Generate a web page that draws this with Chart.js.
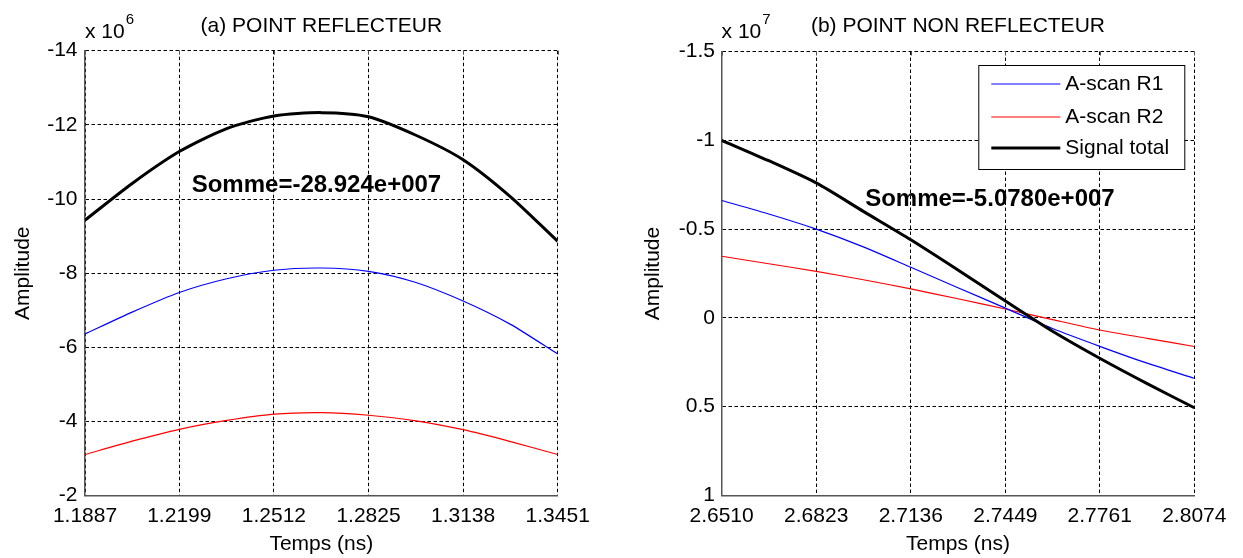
<!DOCTYPE html>
<html>
<head>
<meta charset="utf-8">
<title>A-scan</title>
<script src="https://cdn.jsdelivr.net/npm/chart.js@4.4.1/dist/chart.umd.min.js"></script>
<style>
    body { margin: 0; background: #fff; }
    #cadre { position: relative; width: 1243px; height: 558px; }
    .panneau { position: absolute; top: 0; height: 558px; }
</style>
</head>
<body>
<div id="cadre">
    <div class="panneau" style="left:0;width:620px"><canvas id="grapheA"></canvas></div>
    <div class="panneau" style="left:620px;width:623px"><canvas id="grapheB"></canvas></div>
</div>
<script>
// (a) point reflecteur - amplitudes en x 10^6
const tempsA   = [1.1887, 1.2043, 1.2199, 1.2356, 1.2512, 1.2669, 1.2825, 1.2982, 1.3138, 1.3295, 1.3451];
const ascanR1A = [-6.36, -6.95, -7.48, -7.85, -8.08, -8.14, -8.05, -7.75, -7.25, -6.62, -5.82];
const ascanR2A = [-3.11, -3.47, -3.79, -4.03, -4.20, -4.24, -4.17, -4.02, -3.78, -3.46, -3.11];
const totalA   = [-9.43, -10.42, -11.28, -11.90, -12.24, -12.33, -12.22, -11.72, -11.06, -10.06, -8.86];
const xTicksA  = ['1.1887', '1.2199', '1.2512', '1.2825', '1.3138', '1.3451'];
const yTicksA  = [-14, -12, -10, -8, -6, -4, -2];

// (b) point non reflecteur - amplitudes en x 10^7
const tempsB   = [2.6510, 2.6666, 2.6823, 2.6979, 2.7136, 2.7292, 2.7449, 2.7605, 2.7761, 2.7918, 2.8074];
const ascanR1B = [-0.661, -0.585, -0.500, -0.400, -0.285, -0.170, -0.055, 0.060, 0.160, 0.255, 0.340];
const ascanR2B = [-0.347, -0.305, -0.262, -0.215, -0.163, -0.108, -0.050, 0.010, 0.068, 0.115, 0.161];
const totalB   = [-1.000, -0.885, -0.760, -0.600, -0.440, -0.270, -0.095, 0.075, 0.227, 0.370, 0.506];
const xTicksB  = ['2.6510', '2.6823', '2.7136', '2.7449', '2.7761', '2.8074'];
const yTicksB  = [-1.5, -1, -0.5, 0, 0.5, 1];

const policeNom = '"Liberation Sans", Arial, sans-serif';
Chart.defaults.font.family = policeNom;
Chart.defaults.color = '#000';

// points {x,y} a partir des tableaux
function points(xs, ys) {
    return xs.map((x, i) => ({ x: x, y: ys[i] }));
}

// titre, exposant, texte "Somme" et legende dessines sur le canvas
const textesPlugin = {
    id: 'textes',
    afterDraw(chart, args, opts) {
        const ctx = chart.ctx;
        const zone = chart.chartArea;
        const sx = chart.scales.x, sy = chart.scales.y;
        ctx.save();
        ctx.fillStyle = '#000';
        ctx.textBaseline = 'middle';

        ctx.font = '21px ' + policeNom;
        ctx.textAlign = 'center';
        ctx.fillText(opts.titre, (zone.left + zone.right) / 2, 26);

        ctx.textAlign = 'left';
        ctx.fillText('x 10', zone.left, 32);
        const w = ctx.measureText('x 10').width;
        ctx.font = '15px ' + policeNom;
        ctx.fillText(opts.exposant, zone.left + w + 1, 20);

        // petits traits de graduation en haut, vers l'interieur
        ctx.strokeStyle = '#555';
        ctx.lineWidth = 1;
        sx.ticks.forEach(t => {
            const px = Math.round(sx.getPixelForValue(t.value)) + 0.5;
            ctx.beginPath();
            ctx.moveTo(px, zone.top);
            ctx.lineTo(px, zone.top + 4);
            ctx.stroke();
        });

        ctx.font = 'bold 24px ' + policeNom;
        ctx.fillText(opts.somme, sx.getPixelForValue(opts.sommeX), sy.getPixelForValue(opts.sommeY));

        if (opts.legende) {
            const bx = zone.right - 216, by = zone.top + 13.5, bw = 206, bh = 104;
            ctx.fillStyle = '#fff';
            ctx.fillRect(bx, by, bw, bh);
            ctx.strokeStyle = '#000';
            ctx.lineWidth = 1;
            ctx.strokeRect(bx + 0.5, by + 0.5, bw, bh);
            const lignesY = [19, 52, 83];
            chart.data.datasets.forEach((ds, i) => {
                const y = by + lignesY[i];
                ctx.strokeStyle = ds.borderColor;
                ctx.lineWidth = ds.borderWidth;
                ctx.beginPath();
                ctx.moveTo(bx + 13, y);
                ctx.lineTo(bx + 82, y);
                ctx.stroke();
                ctx.fillStyle = '#000';
                ctx.font = '21px ' + policeNom;
                ctx.fillText(ds.label, bx + 87, y);
            });
        }
        ctx.restore();
    }
};

function creerGraphe(idCanvas, p) {
    const ctx = document.getElementById(idCanvas).getContext('2d');
    return new Chart(ctx, {
        type: 'line',
        data: {
            datasets: [
                { label: 'A-scan R1', data: points(p.temps, p.r1), borderColor: '#0000ff', borderWidth: 1.2, order: 1 },
                { label: 'A-scan R2', data: points(p.temps, p.r2), borderColor: '#ff0000', borderWidth: 1.2, order: 1 },
                { label: 'Signal total', data: points(p.temps, p.total), borderColor: '#000000', borderWidth: 3, order: 0 }
            ]
        },
        options: {
            responsive: true,
            maintainAspectRatio: false,
            animation: false,
            elements: { point: { radius: 0 }, line: { tension: 0.25 } },
            layout: { padding: { left: 0, top: p.hautMarge, right: p.droiteMarge, bottom: 0 } },
            scales: {
                x: {
                    type: 'linear',
                    min: parseFloat(p.xTicks[0]),
                    max: parseFloat(p.xTicks[p.xTicks.length - 1]),
                    afterBuildTicks: s => { s.ticks = p.xTicks.map(t => ({ value: parseFloat(t) })); },
                    afterFit: s => { s.height = p.basHauteur; },
                    ticks: { callback: (v, i) => p.xTicks[i], font: { size: 21 }, padding: 8, maxRotation: 0, autoSkip: false },
                    grid: { color: '#000', lineWidth: 1, drawTicks: false },
                    border: { display: true, color: '#555', width: 1.5, dash: [3.5, 2.5] },
                    title: { display: true, text: 'Temps (ns)', font: { size: 21 }, padding: { top: 0, bottom: 1 } }
                },
                y: {
                    type: 'linear',
                    reverse: true,
                    min: p.yTicks[0],
                    max: p.yTicks[p.yTicks.length - 1],
                    afterBuildTicks: s => { s.ticks = p.yTicks.map(t => ({ value: t })); },
                    afterFit: s => { s.width = p.gaucheLargeur; },
                    ticks: { callback: v => String(v), font: { size: 21 }, padding: p.tickPad },
                    grid: { color: '#000', lineWidth: 1, drawTicks: false },
                    border: { display: true, color: '#555', width: 1.5, dash: [3.5, 2.5] },
                    title: { display: true, text: 'Amplitude', font: { size: 21 }, padding: { top: p.titrePad, bottom: 0 } }
                }
            },
            plugins: {
                legend: { display: false },
                tooltip: { enabled: false },
                textes: {
                    titre: p.titre, exposant: p.exposant, somme: p.somme,
                    sommeX: p.sommeX, sommeY: p.sommeY, legende: p.legende
                }
            }
        },
        plugins: [textesPlugin]
    });
}

creerGraphe('grapheA', {
    temps: tempsA, r1: ascanR1A, r2: ascanR2A, total: totalA,
    xTicks: xTicksA, yTicks: yTicksA,
    titre: '(a) POINT REFLECTEUR', exposant: '6',
    somme: 'Somme=-28.924e+007', sommeX: 1.2240, sommeY: -10.38,
    legende: false,
    hautMarge: 50.7, droiteMarge: 62.3, basHauteur: 62.3, gaucheLargeur: 85,
    tickPad: 7.5, titrePad: 10.7
});

creerGraphe('grapheB', {
    temps: tempsB, r1: ascanR1B, r2: ascanR2B, total: totalB,
    xTicks: xTicksB, yTicks: yTicksB,
    titre: '(b) POINT NON REFLECTEUR', exposant: '7',
    somme: 'Somme=-5.0780e+007', sommeX: 2.6985, sommeY: -0.666,
    legende: true,
    hautMarge: 51.5, droiteMarge: 48.7, basHauteur: 62.5, gaucheLargeur: 101.6,
    tickPad: 6.7, titrePad: 20.4
});
</script>
</body>
</html>
